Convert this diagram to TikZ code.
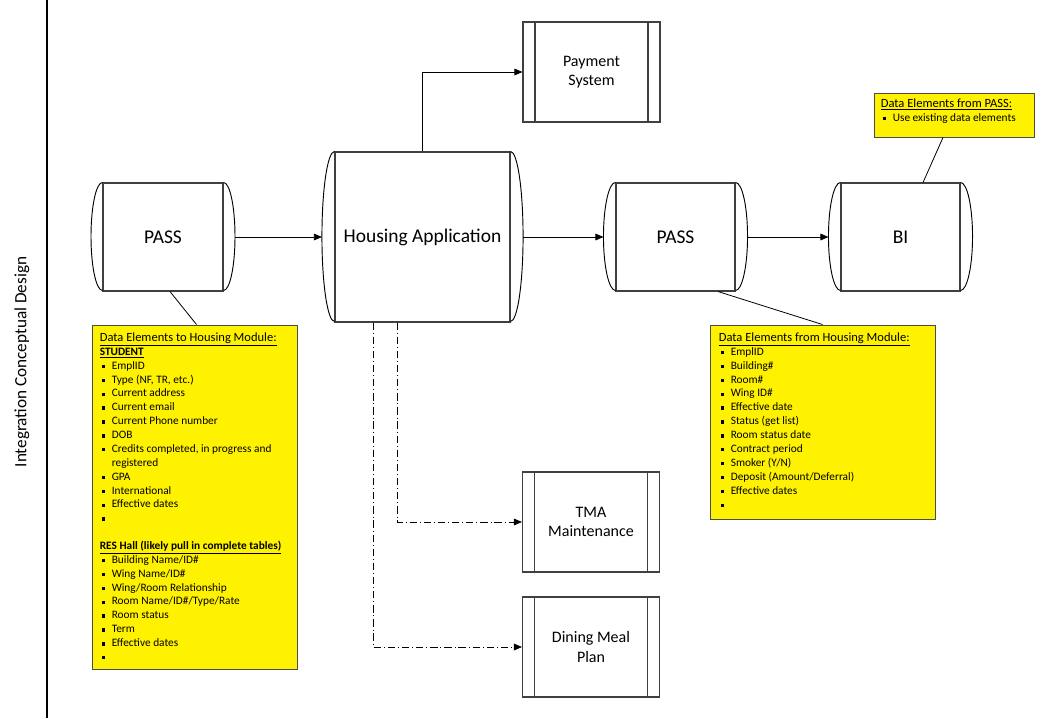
\documentclass[tikz,border=0pt]{standalone}
\usepackage{fontspec}
\setmainfont{Carlito}
\usetikzlibrary{arrows.meta}

\newcommand{\sq}{\rule[0.8pt]{2.5pt}{2.5pt}}
\newcommand{\itm}[1]{\hspace*{1.5pt}\makebox[7.5pt][l]{\sq}#1}
\newcommand{\notehead}[1]{{\fontsize{9.4}{10.4}\selectfont\underline{#1}}}
\newcommand{\sidecaps}[3]{%
  \draw[capline] (#1.north west) arc[start angle=90, end angle=270, x radius=#2, y radius=#3];
  \draw[capline] (#1.north east) arc[start angle=90, end angle=-90, x radius=#2, y radius=#3];
}

\tikzset{
  store/.style={draw=black!75, line width=0.8pt, font=\fontsize{14.6}{16}\selectfont},
  capline/.style={black, line width=0.7pt},
  sidebox/.style={draw=black!75, line width=0.8pt, minimum width=102.75pt, minimum height=75pt,
    align=center, font=\fontsize{12}{14.5}\selectfont,
    path picture={\draw[black!75, line width=0.8pt]
      ([xshift=9pt]path picture bounding box.north west) -- ([xshift=9pt]path picture bounding box.south west)
      ([xshift=-9pt]path picture bounding box.north east) -- ([xshift=-9pt]path picture bounding box.south east);}},
  notebox/.style={draw=black!70, line width=0.7pt, fill=yellow},
  notetext/.style={align=left, inner sep=0pt, font=\fontsize{8.5}{10.4}\selectfont},
  flow/.style={-{Triangle[length=6pt,width=5pt]}, line width=0.6pt},
  feed/.style={flow, dash pattern=on 5.5pt off 2.2pt on 0.7pt off 2.2pt},
  callout/.style={line width=0.6pt}
}

\begin{document}
\begin{tikzpicture}[x=0.75pt, y=-0.75pt]
\fill[white] (0,0) rectangle (1045,718);
\useasboundingbox (0,0) rectangle (1045,718);

% side title
\coordinate (ruletop) at (47,0);
\coordinate (rulebot) at (47,718);
\draw[line width=0.8pt] (ruletop) -- (rulebot);
\node[rotate=90, font=\fontsize{12.9}{15}\selectfont] (title) at (22,362) {Integration Conceptual Design};

% stores
\node[store, minimum width=90pt, minimum height=81pt] (passin) at (163,237) {PASS};
\node[store, minimum width=131.25pt, minimum height=127.5pt] (housing) at (422.5,237) {Housing Application};
\node[store, minimum width=89.25pt, minimum height=81pt] (passout) at (675.5,237) {PASS};
\node[store, minimum width=89.25pt, minimum height=81pt] (bi) at (900.5,237) {BI};
\sidecaps{passin}{8.6pt}{40.5pt}
\sidecaps{housing}{9.4pt}{63.75pt}
\sidecaps{passout}{9pt}{40.5pt}
\sidecaps{bi}{9pt}{40.5pt}

% other systems
\node[sidebox] (pay) at (591.5,72) {Payment\\System};
\node[sidebox] (tma) at (591,522) {TMA\\Maintenance};
\node[sidebox] (dining) at (591,647) {Dining Meal\\Plan};

% flows
\draw[flow] ([xshift=8.6pt]passin.east) -- ([xshift=-9.4pt]housing.west);
\draw[flow] ([xshift=9.4pt]housing.east) -- ([xshift=-9pt]passout.west);
\draw[flow] ([xshift=9pt]passout.east) -- ([xshift=-9pt]bi.west);
\draw[flow] (housing.north) |- (pay.west);
\draw[feed] ([xshift=-19.1pt]housing.south) |- (tma.west);
\draw[feed] ([xshift=-37.1pt]housing.south) |- (dining.west);

% data notes
\node[notebox, minimum width=153.75pt, minimum height=258pt] (tohousing) at (194.5,497) {};
\node[notetext, anchor=north west] (tohousingtxt) at ([xshift=6pt,yshift=-6pt]tohousing.north west) {%
  \notehead{Data Elements to Housing Module:}\\
  \textbf{\underline{STUDENT}}\\
  \itm{EmplID}\\
  \itm{Type (NF, TR, etc.)}\\
  \itm{Current address}\\
  \itm{Current email}\\
  \itm{Current Phone number}\\
  \itm{DOB}\\
  \itm{Credits completed, in progress and}\\
  \hspace*{9pt}registered\\
  \itm{GPA}\\
  \itm{International}\\
  \itm{Effective dates}\\
  \itm{}\\
  \mbox{}\\
  \textbf{\underline{RES Hall (likely pull in complete tables)}}\\
  \itm{Building Name/ID\#}\\
  \itm{Wing Name/ID\#}\\
  \itm{Wing/Room Relationship}\\
  \itm{Room Name/ID\#/Type/Rate}\\
  \itm{Room status}\\
  \itm{Term}\\
  \itm{Effective dates}\\
  \itm{}};

\node[notebox, minimum width=168.75pt, minimum height=145.5pt] (fromhousing) at (822.5,422) {};
\node[notetext, anchor=north west] (fromhousingtxt) at ([xshift=6.75pt,yshift=-6pt]fromhousing.north west) {%
  \notehead{Data Elements from Housing Module:}\\
  \itm{EmplID}\\
  \itm{Building\#}\\
  \itm{Room\#}\\
  \itm{Wing ID\#}\\
  \itm{Effective date}\\
  \itm{Status (get list)}\\
  \itm{Room status date}\\
  \itm{Contract period}\\
  \itm{Smoker (Y/N)}\\
  \itm{Deposit (Amount/Deferral)}\\
  \itm{Effective dates}\\
  \itm{}};

\node[notebox, minimum width=120pt, minimum height=33pt] (fromPASS) at (954,115) {};
\node[notetext, anchor=north west] (fromPASStxt) at ([xshift=5.25pt,yshift=-4.5pt]fromPASS.north west) {%
  \notehead{Data Elements from PASS:}\\
  \itm{Use existing data elements}};

% callouts
\draw[callout] ([xshift=5.25pt]passin.south) -- ([xshift=1.5pt]tohousing.north);
\draw[callout] ([xshift=31.9pt]passout.south) -- (fromhousing.north);
\draw[callout] ([xshift=16.9pt]bi.north) -- ([xshift=-8.25pt]fromPASS.south);
\end{tikzpicture}
\end{document}
